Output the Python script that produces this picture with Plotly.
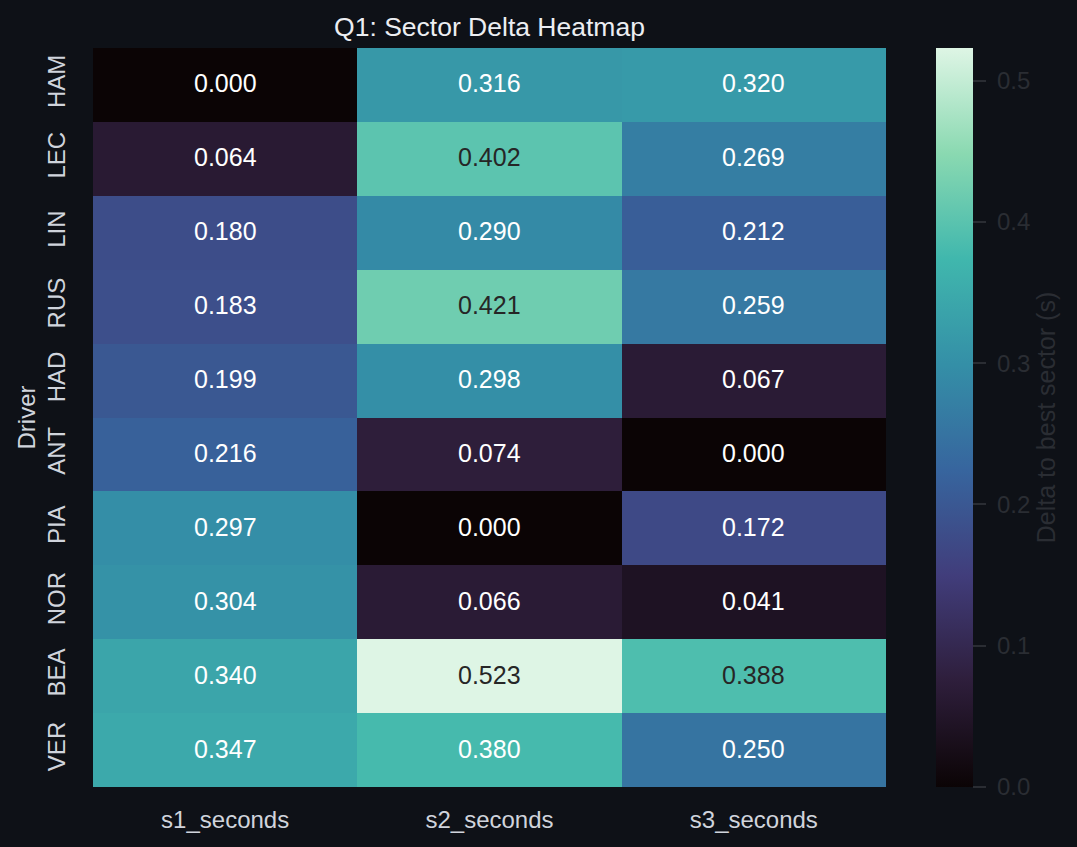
import plotly.graph_objects as go

drivers = ["HAM", "LEC", "LIN", "RUS", "HAD", "ANT", "PIA", "NOR", "BEA", "VER"]
sectors = ["s1_seconds", "s2_seconds", "s3_seconds"]
s1 = [0.000, 0.064, 0.180, 0.183, 0.199, 0.216, 0.297, 0.304, 0.340, 0.347]
s2 = [0.316, 0.402, 0.290, 0.421, 0.298, 0.074, 0.000, 0.066, 0.523, 0.380]
s3 = [0.320, 0.269, 0.212, 0.259, 0.067, 0.000, 0.172, 0.041, 0.388, 0.250]
cbar_ticks = [0.0, 0.1, 0.2, 0.3, 0.4, 0.5]

z = [[a, b, c] for a, b, c in zip(s1, s2, s3)]
zmax = max(max(s1), max(s2), max(s3))

mako_hex = ["#0B0405", "#2E1E3B", "#413D7B", "#37659E", "#348FA7", "#40B7AD", "#8AD9B1", "#DEF5E5"]
mako_pos = [0, 1/7, 2/7, 3/7, 4/7, 5/7, 6/7, 1]
colorscale = [[p, c] for p, c in zip(mako_pos, mako_hex)]


def hex2rgb(h):
    return [int(h[i:i + 2], 16) / 255 for i in (1, 3, 5)]


def interp(t):
    for i in range(len(mako_pos) - 1):
        if mako_pos[i] <= t <= mako_pos[i + 1]:
            f = (t - mako_pos[i]) / (mako_pos[i + 1] - mako_pos[i])
            a, b = hex2rgb(mako_hex[i]), hex2rgb(mako_hex[i + 1])
            return [a[k] + f * (b[k] - a[k]) for k in range(3)]
    return hex2rgb(mako_hex[-1])


def lum(rgb):
    out = []
    for c in rgb:
        out.append(c / 12.92 if c <= 0.03928 else ((c + 0.055) / 1.055) ** 2.4)
    return 0.2126 * out[0] + 0.7152 * out[1] + 0.0722 * out[2]


bg = "#0e1117"
dim = "#2a2d33"
light = "#d0d4dc"
font = "Liberation Sans, Arial, sans-serif"

fig = go.Figure()
fig.add_trace(go.Heatmap(
    z=z, x=sectors, y=drivers, colorscale=colorscale, zmin=0, zmax=zmax,
    colorbar=dict(
        x=1.063, xanchor="left", xref="paper", y=0.5, yanchor="middle", len=1,
        xpad=0, ypad=0,
        thickness=37, outlinewidth=0,
        tickvals=cbar_ticks, ticktext=[" " + f"{t:.1f}" for t in cbar_ticks],
        ticks="outside", ticklen=13, tickwidth=2, tickcolor=dim,
        tickfont=dict(color=dim, size=24, family=font),
        title=dict(text="Delta to best sector (s)", side="right",
                   font=dict(color=dim, size=25, family=font)),
    ),
    hoverinfo="skip",
))

for i, d in enumerate(drivers):
    for j, s in enumerate(sectors):
        v = z[i][j]
        col = "#262626" if lum(interp(v / zmax)) > 0.408 else "#ffffff"
        fig.add_annotation(x=s, y=d, text=f"{v:.3f}", showarrow=False, yshift=1.5,
                           font=dict(color=col, size=25, family=font))

fig.update_layout(
    width=1077, height=847,
    paper_bgcolor=bg, plot_bgcolor=bg,
    margin=dict(l=93, r=191, t=48, b=60),
    title=dict(text="Q1: Sector Delta Heatmap", x=0.4545, xanchor="center", y=0.968, yanchor="middle",
               font=dict(color="#eceef2", size=26.5, family=font)),
    font=dict(family=font, color=light),
)
fig.update_xaxes(showgrid=False, zeroline=False, ticks="", tickfont=dict(size=24, color=light), ticklabelstandoff=16)
fig.update_yaxes(showgrid=False, zeroline=False, autorange="reversed", ticks="", tickangle=-90,
                 tickfont=dict(size=24, color=light), ticklabelstandoff=22,
                 title=dict(text="Driver", font=dict(size=24, color=light), standoff=0))

fig.write_html("out.html")
